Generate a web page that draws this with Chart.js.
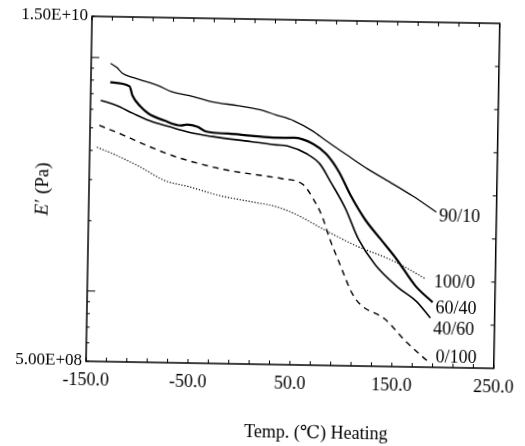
<!DOCTYPE html>
<html>
<head>
<meta charset="utf-8">
<script src="https://cdn.jsdelivr.net/npm/chart.js@4.4.0/dist/chart.umd.min.js"></script>
<style>
  html, body { margin: 0; padding: 0; background: #fff; }
  /* the scanned figure sits about one degree off square */
  #wrap { width: 525px; height: 446px; transform: rotate(1deg); transform-origin: 302px 192px; }
</style>
</head>
<body>
<div id="wrap"><canvas id="chart" width="525" height="446"></canvas></div>
<script>
// Storage modulus E' (Pa) vs temperature
const t9010 = [-131, -125, -119, -109, -93, -84, -71, -53, -31, -5, 16, 32, 50, 68, 82, 101, 123, 145, 168, 191];
const e9010 = [9.46e9, 9.11e9, 8.59e9, 8.27e9, 7.89e9, 7.67e9, 7.24e9, 6.98e9, 6.60e9, 6.37e9, 6.15e9, 5.86e9, 5.54e9, 5.04e9, 4.57e9, 4.03e9, 3.49e9, 3.08e9, 2.69e9, 2.31e9];

const t6040 = [-131, -112, -109, -101, -93, -77, -61, -55, -45, -36, -14, 8, 33, 50, 69, 82, 95, 107, 121, 137, 153, 172, 189];
const e6040 = [7.85e9, 7.57e9, 6.92e9, 6.22e9, 5.81e9, 5.43e9, 5.19e9, 5.24e9, 5.15e9, 4.91e9, 4.83e9, 4.75e9, 4.68e9, 4.69e9, 4.43e9, 4.02e9, 3.37e9, 2.67e9, 2.13e9, 1.75e9, 1.44e9, 1.11e9, 9.49e8];

const t4060 = [-140, -125, -108, -92, -73, -52, -30, 2, 33, 44, 63, 76, 87, 102, 115, 132, 154, 173, 187];
const e4060 = [6.56e9, 6.27e9, 5.80e9, 5.42e9, 5.13e9, 4.85e9, 4.68e9, 4.51e9, 4.36e9, 4.32e9, 4.01e9, 3.64e9, 3.05e9, 2.35e9, 1.75e9, 1.36e9, 1.10e9, 9.55e8, 8.13e8];

const t0100 = [-141, -117, -92, -67, -44, -13, 20, 39, 60, 70, 79, 87, 97, 110, 119, 142, 164, 180, 186];
const e0100 = [5.13e9, 4.67e9, 4.20e9, 3.83e9, 3.59e9, 3.36e9, 3.21e9, 3.13e9, 2.96e9, 2.58e9, 2.18e9, 1.74e9, 1.37e9, 1.02e9, 9.10e8, 8.00e8, 6.38e8, 5.54e8, 5.27e8];

const t1000 = [-143, -124, -101, -76, -53, -22, 9, 34, 52, 84, 115, 146, 165, 182];
const e1000 = [4.13e9, 3.83e9, 3.44e9, 3.01e9, 2.85e9, 2.62e9, 2.48e9, 2.37e9, 2.22e9, 1.88e9, 1.62e9, 1.44e9, 1.31e9, 1.19e9];

const seriesNames = ['90/10', '60/40', '40/60', '0/100', '100/0'];
const xTickVals = [-150, -50, 50, 150, 250];
const yTickVals = [5e8, 6e8, 7e8, 8e8, 9e8, 1e9, 2e9, 3e9, 4e9, 5e9, 6e9, 7e9, 8e9, 9e9, 1e10, 1.5e10];

const SERIF = "'Liberation Serif', 'DejaVu Serif', serif";
const INK = '#000';

function pts(ts, es) {
    return ts.map((t, i) => ({ x: t, y: es[i] }));
}

function fmtExp(v) {
    // 1.5e10 -> 1.50E+10
    let s = v.toExponential(2).toUpperCase();
    return s.replace(/E([+-])(\d)$/, 'E$10$2');
}

// label nudges next to each curve's last point
const labelNudge = [[3, 5], [3, 6], [3, 12], [7, -4], [8, 3]];

const framePlugin = {
    id: 'frame',
    afterDraw(chart) {
        const ctx = chart.ctx;
        const a = chart.chartArea;
        const xs = chart.scales.x, ys = chart.scales.y;
        ctx.save();
        ctx.strokeStyle = INK;
        ctx.lineWidth = 1.5;
        ctx.strokeRect(a.left, a.top, a.right - a.left, a.bottom - a.top);

        ctx.lineWidth = 1;
        ctx.beginPath();
        // top and bottom ticks every 20 degrees, pointing in
        for (let v = -150; v <= 250; v += 20) {
            const px = xs.getPixelForValue(v);
            ctx.moveTo(px, a.bottom); ctx.lineTo(px, a.bottom - 4);
            ctx.moveTo(px, a.top); ctx.lineTo(px, a.top + 4);
        }
        // left log ticks
        yTickVals.forEach(v => {
            const py = ys.getPixelForValue(v);
            const len = (v === 1e9 || v === 1e10) ? 8 : 3;
            ctx.moveTo(a.left, py); ctx.lineTo(a.left + len, py);
        });
        // right side has evenly spaced ticks
        for (let i = 1; i < 8; i++) {
            const py = a.top + (a.bottom - a.top) * i / 8;
            ctx.moveTo(a.right, py); ctx.lineTo(a.right - 4, py);
        }
        ctx.stroke();

        // curve labels
        ctx.fillStyle = INK;
        ctx.font = '18px ' + SERIF;
        ctx.textAlign = 'left';
        ctx.textBaseline = 'middle';
        chart.data.datasets.forEach((ds, i) => {
            const last = ds.data[ds.data.length - 1];
            const px = xs.getPixelForValue(last.x);
            const py = ys.getPixelForValue(last.y);
            ctx.fillText(seriesNames[i], px + labelNudge[i][0], py + labelNudge[i][1]);
        });

        // x title
        ctx.textAlign = 'center';
        ctx.fillText('Temp. (\u2103) Heating', 320, 433);

        // y title: italic E, then prime and unit
        ctx.translate(43, 194);
        ctx.rotate(-Math.PI / 2);
        ctx.textAlign = 'left';
        ctx.font = 'italic 19px ' + SERIF;
        const wE = ctx.measureText('E').width;
        ctx.font = '19px ' + SERIF;
        const rest = '\u2032 (Pa)';
        const wR = ctx.measureText(rest).width;
        const x0 = -(wE + wR) / 2;
        ctx.font = 'italic 19px ' + SERIF;
        ctx.fillText('E', x0, 0);
        ctx.font = '19px ' + SERIF;
        ctx.fillText(rest, x0 + wE + 1, 0);
        ctx.restore();
    }
};

const ctx = document.getElementById('chart').getContext('2d');
new Chart(ctx, {
    type: 'line',
    data: {
        datasets: [
            { data: pts(t9010, e9010), borderWidth: 1.3 },
            { data: pts(t6040, e6040), borderWidth: 2.2 },
            { data: pts(t4060, e4060), borderWidth: 1.6 },
            { data: pts(t0100, e0100), borderWidth: 1.4, borderDash: [6, 5] },
            { data: pts(t1000, e1000), borderWidth: 1.2, borderDash: [1.2, 1.8] }
        ].map(ds => Object.assign({
            borderColor: INK,
            pointRadius: 0,
            fill: false,
            cubicInterpolationMode: 'monotone'
        }, ds))
    },
    options: {
        responsive: false,
        animation: false,
        layout: { padding: { left: 0, right: 10, top: 20, bottom: 0 } },
        plugins: { legend: { display: false }, tooltip: { enabled: false } },
        scales: {
            x: {
                type: 'linear',
                min: -150,
                max: 250,
                afterBuildTicks: s => { s.ticks = xTickVals.map(v => ({ value: v })); },
                afterFit: s => { s.height = 81; },
                grid: { display: false, drawTicks: false },
                border: { display: false },
                ticks: {
                    autoSkip: false,
                    maxRotation: 0,
                    padding: 8,
                    color: INK,
                    font: { family: SERIF, size: 18 },
                    callback: v => Number(v).toFixed(1)
                }
            },
            y: {
                type: 'logarithmic',
                min: 5e8,
                max: 1.5e10,
                afterBuildTicks: s => { s.ticks = yTickVals.map(v => ({ value: v })); },
                afterFit: s => { s.width = 89; },
                grid: { display: false, drawTicks: false },
                border: { display: false },
                ticks: {
                    autoSkip: false,
                    padding: 4,
                    color: INK,
                    font: { family: SERIF, size: 17 },
                    callback: v => (v === 1.5e10 || v === 5e8) ? fmtExp(v) : ''
                }
            }
        }
    },
    plugins: [framePlugin]
});
</script>
</body>
</html>
